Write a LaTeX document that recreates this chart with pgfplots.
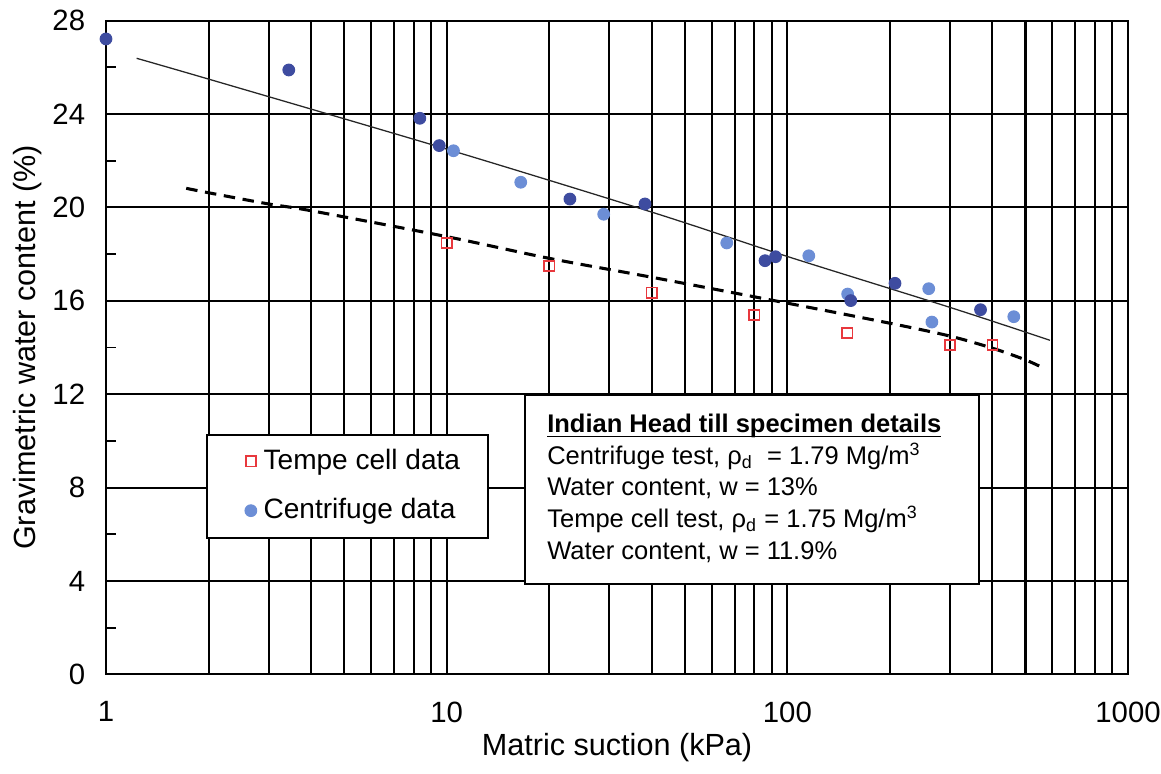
\documentclass[border=0pt]{standalone}
\usepackage{fontspec}
\setmainfont{Liberation Sans}
\usepackage{pgfplots}
\pgfplotsset{compat=1.18}
\definecolor{tempe}{HTML}{E8383D}
\definecolor{cdark}{HTML}{3E4CA0}
\definecolor{clight}{HTML}{6C8ED6}

\begin{document}
\begin{tikzpicture}
\useasboundingbox (-1.4608,-1.3602) rectangle (14.539,9.2926);
\begin{axis}[
    scale only axis,
    width=14.085cm, height=9.007cm,
    xmode=log, xmin=1, xmax=1000, ymin=0, ymax=28,
    xtick={1,10,100,1000}, xticklabels={1,10,100,1000},
    minor xtick={2,3,4,5,6,7,8,9,20,30,40,50,60,70,80,90,200,300,400,500,600,700,800,900},
    ytick={0,4,8,12,16,20,24,28}, yticklabels={0,4,8,12,16,20,24,28},
    minor ytick={2,6,10,14,18,22,26},
    xmajorgrids, xminorgrids, ymajorgrids,
    major grid style={black, line width=0.8pt},
    minor grid style={black, line width=0.8pt},
    axis line style={black, line width=0.8pt},
    tick style={black, line width=0.75pt},
    major tick length=0pt, minor tick length=4pt,
    tick align=inside, tick pos=left,
    ticklabel style={font=\fontsize{11.5}{13}\selectfont},
    xticklabel style={anchor=north, inner sep=0pt, yshift=-10.5pt},
    yticklabel style={anchor=east, inner sep=0pt, xshift=-8pt},
    label style={font=\fontsize{12}{14}\selectfont},
    xlabel={Matric suction (kPa)},
    xlabel style={at={(axis description cs:0.5,-0.0898)}, anchor=north, inner sep=0pt},
    ylabel={Gravimetric water content (\%)},
    ylabel style={at={(axis description cs:-0.0764,0.5)}, anchor=center, inner sep=0pt},
    legend style={at={(0.1355,0.3452)}, anchor=north west, draw=none, fill=none,
        inner sep=0pt, font=\fontsize{11}{13}\selectfont, row sep=9.9pt,
        nodes={inner sep=0pt},
        /tikz/every odd column/.append style={column sep=2.7pt}},
    legend cell align=left,
    legend image code/.code={\draw[mark repeat=2,mark phase=2] plot coordinates {(0cm,0cm)(0.1cm,0cm)(0.2cm,0cm)};},
]
% fitted curves
\addplot[black!85, line width=0.5pt, smooth, forget plot] coordinates {
  (1.23,26.39) (2,25.5) (10,22.5) (40,19.8) (100,17.9) (300,15.72) (590,14.31)};
\addplot[black, line width=1.2pt, dash pattern=on 4.5pt off 3pt, smooth, forget plot] coordinates {
  (1.72,20.82) (2,20.63) (3,20.15) (4,19.86) (10,18.75) (20,17.82) (40,17.01)
  (100,15.9) (200,15.04) (300,14.49) (400,13.97) (500,13.47) (574,13.07)};

% boxes
\draw[fill=white, line width=0.8pt] (rel axis cs:0.0991,0.2081) rectangle (rel axis cs:0.3741,0.3661);
\draw[fill=white, line width=0.8pt] (rel axis cs:0.41,0.1382) rectangle (rel axis cs:0.8538,0.4273);
\node[anchor=north west, inner sep=0pt, align=left, font=\fontsize{10}{12.4}\selectfont]
  at (rel axis cs:0.4313,0.3987) {%
  \textbf{\underbar{Indian Head till specimen details}}\\
  Centrifuge test, ρ\textsubscript{d}\ \ = 1.79 Mg/m\textsuperscript{3}\\
  Water content, w = 13\%\\
  Tempe cell test, ρ\textsubscript{d} = 1.75 Mg/m\textsuperscript{3}\\
  Water content, w = 11.9\%};

% data
\addplot[only marks, mark=square, mark size=2pt, mark options={draw=tempe, fill=white, line width=0.6pt}]
  coordinates {(10,18.48) (20,17.49) (40,16.35) (80,15.39) (150,14.62) (300,14.11) (400,14.11)};
\addlegendentry{Tempe cell data}
\addplot[only marks, mark=*, mark size=2.3pt, mark options={draw=clight, fill=clight}]
  coordinates {(10.47,22.43) (16.5,21.08) (28.9,19.71) (66.4,18.48) (115.6,17.93)
  (150.3,16.29) (260,16.52) (265.6,15.09) (462,15.32)};
\addlegendentry{Centrifuge data}
\addplot[only marks, mark=*, mark size=2.3pt, mark options={draw=cdark, fill=cdark}, forget plot]
  coordinates {(1,27.22) (3.44,25.89) (8.34,23.82) (9.51,22.65) (23.0,20.36) (38.2,20.15)
  (86.0,17.72) (92.3,17.89) (153.5,16.01) (207,16.75) (369,15.62)};
\end{axis}
\end{tikzpicture}
\end{document}
